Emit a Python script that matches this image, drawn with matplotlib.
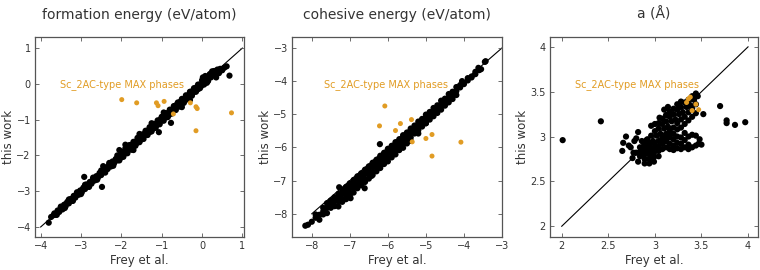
import matplotlib.pyplot as plt

### Data ###

# formation energy (eV/atom): Frey et al. vs this work
fe_frey = [
    -3.74, -3.68, -3.62, -3.56, -3.50, -3.44, -3.38, -3.32, -3.26, -3.20, -3.14, -3.08,
    -3.02, -2.96, -2.90, -2.84, -2.78, -2.72, -2.66, -2.60, -2.54, -2.48, -2.42, -2.36,
    -2.30, -2.24, -2.18, -2.12, -2.06, -2.00, -1.94, -1.88, -1.82, -1.76, -1.70, -1.64,
    -1.58, -1.52, -1.46, -1.40, -1.34, -1.28, -1.22, -1.16, -1.10, -1.04, -0.98, -0.92,
    -0.86, -0.80, -0.74, -0.68, -0.62, -0.56, -0.50, -0.44, -0.38, -0.32, -0.26, -0.20,
    -0.14, -0.08, -0.02, 0.04, 0.10, 0.16, 0.22, 0.28,
    -3.50, -3.30, -3.10, -2.90, -2.70, -2.50, -2.30, -2.10, -2.00, -1.90, -1.80, -1.70,
    -1.60, -1.50, -1.40, -1.30, -1.20, -1.10, -1.00, -0.90, -0.80, -0.70, -0.60, -0.50,
    -0.40, -0.30, -0.20, -0.10, 0.00, 0.10, 0.20, 0.30,
    -3.60, -3.40, -3.20, -3.00, -2.80, -2.60, -2.40, -2.20, -2.05, -1.95, -1.85, -1.75,
    -1.65, -1.55, -1.45, -1.35, -1.25, -1.15, -1.05, -0.95, -0.85, -0.75, -0.65, -0.55,
    -0.45, -0.35, -0.25, -0.15, -0.05, 0.05, 0.15,
    -3.66, -3.58, -3.50, -3.42, -3.34, -3.26, -3.18, -3.10, -3.02, -2.94, -2.86, -2.78,
    -2.70, -2.62, -2.54, -2.46, -2.38, -2.30, -2.22, -2.14, -2.06, -1.98, -1.90, -1.82,
    -1.74, -1.66, -1.58, -1.50, -1.42, -1.34, -1.26, -1.18, -1.10, -1.02, -0.94, -0.86,
    -0.78, -0.70, -0.62, -0.54, -0.46, -0.38, -0.30, -0.22, -0.14, -0.06, 0.02, 0.10,
    0.18, 0.26,
    -3.62, -3.54, -3.46, -3.38, -3.30, -3.22, -3.14, -3.06, -2.98, -2.90, -2.82, -2.74,
    -2.66, -2.58, -2.50, -2.42, -2.34, -2.26, -2.18, -2.10, -2.02, -1.94, -1.86, -1.78,
    -1.70, -1.62, -1.54, -1.46, -1.38, -1.30, -1.22, -1.14, -1.06, -0.98, -0.90, -0.82,
    -0.74, -0.66, -0.58, -0.50, -0.42, -0.34, -0.26, -0.18, -0.10, -0.02, 0.06, 0.14,
    0.22,
    0.02, 0.08, 0.12, 0.18, 0.25, 0.32, 0.38, 0.45, 0.50, 0.55, 0.61, 0.68, 0.35, 0.42,
    -2.05, -1.90, -1.55, -1.25, -2.45, -1.70, -0.95, -0.50, -0.30,
    -3.80, -2.92, -2.48, -1.07, -0.77,
]
fe_this = [
    -3.72, -3.67, -3.63, -3.55, -3.49, -3.45, -3.36, -3.31, -3.27, -3.19, -3.13, -3.09,
    -3.00, -2.95, -2.91, -2.83, -2.77, -2.73, -2.64, -2.59, -2.55, -2.46, -2.41, -2.37,
    -2.28, -2.22, -2.19, -2.10, -2.04, -2.01, -1.92, -1.87, -1.83, -1.74, -1.69, -1.65,
    -1.56, -1.51, -1.47, -1.38, -1.33, -1.29, -1.20, -1.15, -1.11, -1.02, -0.97, -0.93,
    -0.84, -0.79, -0.75, -0.66, -0.61, -0.57, -0.48, -0.43, -0.39, -0.30, -0.25, -0.21,
    -0.12, -0.07, -0.03, 0.05, 0.09, 0.16, 0.21, 0.29,
    -3.43, -3.23, -3.03, -2.82, -2.62, -2.42, -2.21, -2.00, -1.90, -1.80, -1.71, -1.62,
    -1.51, -1.42, -1.31, -1.21, -1.12, -1.02, -0.92, -0.82, -0.72, -0.62, -0.52, -0.42,
    -0.32, -0.22, -0.12, -0.02, 0.10, 0.18, 0.28, 0.36,
    -3.66, -3.47, -3.27, -3.08, -2.88, -2.68, -2.48, -2.29, -2.14, -2.04, -1.94, -1.84,
    -1.73, -1.63, -1.54, -1.43, -1.33, -1.23, -1.13, -1.03, -0.93, -0.83, -0.73, -0.63,
    -0.53, -0.43, -0.33, -0.22, -0.12, -0.02, 0.08,
    -3.62, -3.54, -3.45, -3.38, -3.30, -3.22, -3.13, -3.06, -2.98, -2.90, -2.81, -2.74,
    -2.66, -2.58, -2.49, -2.42, -2.34, -2.26, -2.17, -2.10, -2.02, -1.94, -1.85, -1.78,
    -1.70, -1.62, -1.53, -1.46, -1.38, -1.30, -1.21, -1.14, -1.06, -0.98, -0.89, -0.82,
    -0.74, -0.66, -0.57, -0.50, -0.42, -0.34, -0.25, -0.18, -0.10, -0.02, 0.07, 0.14,
    0.22, 0.30,
    -3.66, -3.58, -3.51, -3.42, -3.34, -3.27, -3.18, -3.10, -3.03, -2.94, -2.86, -2.79,
    -2.70, -2.62, -2.55, -2.46, -2.38, -2.31, -2.22, -2.14, -2.07, -1.98, -1.90, -1.83,
    -1.74, -1.66, -1.59, -1.50, -1.42, -1.35, -1.26, -1.18, -1.11, -1.02, -0.94, -0.87,
    -0.78, -0.70, -0.63, -0.54, -0.46, -0.39, -0.30, -0.22, -0.15, -0.06, 0.02, 0.09,
    0.18,
    0.18, 0.22, 0.03, 0.25, 0.35, 0.30, 0.40, 0.42, 0.38, 0.45, 0.49, 0.23, 0.18, 0.30,
    -1.85, -1.70, -1.40, -1.10, -2.30, -1.85, -0.80, -0.65, -0.45,
    -3.88, -2.60, -2.88, -1.35, -1.09,
]
fe_sc_frey = [-1.99, -1.62, -1.13, -1.09, -0.94, -0.29, -0.15, -0.12, -0.15, 0.73, -0.71]
fe_sc_this = [-0.44, -0.53, -0.53, -0.61, -0.49, -0.53, -0.64, -0.69, -1.31, -0.81, -0.84]

# cohesive energy (eV/atom)
ce_frey = [
    -8.10, -8.00, -7.90, -7.80, -7.70, -7.60, -7.50, -7.40, -7.30, -7.20, -7.10, -7.00,
    -6.90, -6.80, -6.70, -6.60, -6.50, -6.40, -6.30, -6.20, -6.10, -6.00, -5.90, -5.80,
    -5.70, -5.60, -5.50, -5.40, -5.30, -5.20, -5.10, -5.00, -4.90, -4.80, -4.70, -4.60,
    -4.50, -4.40, -4.30, -4.20, -4.10, -4.00, -3.90, -3.80, -3.70, -3.60, -3.45,
    -7.60, -7.40, -7.20, -7.00, -6.80, -6.60, -6.40, -6.20, -6.00, -5.80, -5.60, -5.40,
    -5.20, -5.00, -4.80, -4.60, -4.40, -4.20,
    -7.80, -7.60, -7.40, -7.20, -7.00, -6.80, -6.60, -6.40, -6.20, -6.00, -5.80, -5.60,
    -5.40, -5.20, -5.00, -4.80, -4.60, -4.40, -4.20,
    -7.30, -7.10, -6.90, -6.70, -6.50, -6.30, -6.10, -5.90, -5.70, -5.50,
    -7.90, -7.70, -7.50, -7.30, -7.10, -6.90, -6.70, -6.50, -6.30, -6.10, -5.90, -5.70,
    -5.50, -5.30, -5.10, -4.90, -4.70, -4.50, -4.30, -4.10, -3.90, -3.70,
    -7.70, -7.50, -7.30, -7.10, -6.90, -6.70, -6.50, -6.30, -6.10, -5.90, -5.70, -5.50,
    -5.30, -5.10, -4.90, -4.70, -4.50, -4.30,
    -7.20, -7.00, -6.80, -6.60, -6.40, -6.20, -6.00, -5.80, -5.60, -5.40, -5.20,
    -3.62, -3.55, -3.80, -4.05, -3.43,
    -6.21, -6.43, -6.61, -6.98, -4.48, -5.00, -7.28, -7.44, -8.17,
]
ce_this = [
    -8.33, -8.24, -8.12, -8.03, -7.93, -7.82, -7.72, -7.63, -7.52, -7.41, -7.32, -7.21,
    -7.10, -7.00, -6.91, -6.80, -6.69, -6.59, -6.48, -6.38, -6.28, -6.17, -6.07, -5.96,
    -5.86, -5.76, -5.65, -5.55, -5.44, -5.34, -5.23, -5.13, -5.02, -4.92, -4.82, -4.71,
    -4.61, -4.51, -4.40, -4.30, -4.19, -4.09, -3.98, -3.89, -3.79, -3.67, -3.42,
    -7.68, -7.50, -7.28, -7.08, -6.87, -6.67, -6.46, -6.25, -6.04, -5.84, -5.63, -5.43,
    -5.22, -5.01, -4.81, -4.59, -4.39, -4.18,
    -8.18, -7.98, -7.77, -7.56, -7.36, -7.15, -6.95, -6.74, -6.53, -6.32, -6.11, -5.90,
    -5.70, -5.48, -5.27, -5.06, -4.86, -4.64, -4.42,
    -7.78, -7.56, -7.36, -7.14, -6.94, -6.72, -6.50, -6.30, -6.08, -5.88,
    -8.02, -7.82, -7.60, -7.40, -7.19, -6.98, -6.78, -6.57, -6.37, -6.16, -5.95, -5.75,
    -5.55, -5.34, -5.14, -4.93, -4.73, -4.53, -4.32, -4.12, -3.91, -3.72,
    -8.02, -7.82, -7.62, -7.42, -7.22, -7.02, -6.80, -6.60, -6.40, -6.19, -5.99, -5.78,
    -5.58, -5.37, -5.16, -4.96, -4.74, -4.54,
    -7.64, -7.44, -7.23, -7.04, -6.83, -6.62, -6.42, -6.21, -6.01, -5.80, -5.58,
    -3.60, -3.64, -3.86, -4.00, -3.40,
    -5.90, -6.86, -7.23, -7.53, -4.68, -5.27, -7.20, -7.58, -8.36,
]
ce_sc_frey = [-6.08, -6.22, -5.67, -5.80, -5.38, -5.36, -5.00, -4.84, -4.84, -4.08]
ce_sc_this = [-4.75, -5.35, -5.28, -5.49, -5.16, -5.83, -5.73, -5.61, -6.26, -5.84]

# lattice parameter a (Angstrom)
a_frey = [
    2.86, 2.90, 2.94, 2.98, 3.02, 3.06, 3.10, 3.14, 3.18, 3.22, 3.26, 3.30, 3.34, 3.38,
    3.42, 3.46,
    2.88, 2.92, 2.96, 3.00, 3.04, 3.08, 3.12, 3.16, 3.20, 3.24, 3.28, 3.32, 3.36, 3.40,
    3.44,
    2.92, 2.96, 3.00, 3.04, 3.08, 3.12, 3.16, 3.20, 3.24, 3.28, 3.32, 3.36, 3.40, 3.44,
    2.96, 3.00, 3.04, 3.08, 3.12, 3.16, 3.20, 3.10, 3.14, 3.05, 3.24, 3.28,
    2.84, 2.84, 2.84, 2.89, 2.89, 2.89, 2.89, 2.89, 2.94, 2.94, 2.94, 2.94, 2.94, 2.99,
    2.99, 2.99, 2.99, 3.04, 3.04, 3.04, 2.80, 2.86, 2.91,
    3.08, 3.08, 3.08, 3.12, 3.12, 3.12, 3.16, 3.16, 3.16, 3.16, 3.20, 3.20, 3.20, 3.20,
    3.24, 3.24, 3.24, 3.24, 3.28, 3.28, 3.28, 3.28, 3.32, 3.32, 3.32, 3.32, 3.36, 3.36,
    3.36, 3.36, 3.40, 3.40, 3.40, 3.44, 3.44, 3.44, 3.47, 3.50, 3.48, 3.52,
    2.69, 2.66, 2.65, 2.77, 2.74, 2.78, 2.80, 2.82, 2.72, 2.76, 2.82,
    2.01, 2.42, 3.70, 3.77, 3.77, 3.86, 3.97,
]
a_this = [
    2.84, 2.87, 2.93, 2.95, 3.01, 3.03, 3.09, 3.11, 3.17, 3.19, 3.25, 3.27, 3.33, 3.35,
    3.41, 3.45,
    2.93, 2.97, 3.01, 3.06, 3.09, 3.14, 3.17, 3.22, 3.25, 3.30, 3.33, 3.38, 3.41, 3.45,
    3.48,
    2.82, 2.86, 2.91, 2.95, 2.98, 3.03, 3.07, 3.10, 3.15, 3.19, 3.22, 3.27, 3.31, 3.36,
    3.12, 3.14, 3.15, 3.20, 3.24, 3.28, 3.31, 3.30, 3.33, 3.21, 3.36, 3.39,
    2.78, 2.83, 2.88, 2.70, 2.75, 2.80, 2.85, 2.90, 2.70, 2.75, 2.80, 2.85, 2.90, 2.72,
    2.77, 2.82, 2.87, 2.78, 2.84, 2.89, 2.82, 2.95, 2.96,
    2.86, 2.92, 2.98, 2.88, 2.95, 3.01, 2.86, 2.92, 2.99, 3.04, 2.85, 2.90, 2.97, 3.03,
    2.87, 2.93, 3.00, 3.08, 2.86, 2.92, 2.99, 3.10, 2.88, 2.96, 3.04, 3.14, 2.86, 2.91,
    3.00, 3.18, 2.88, 3.02, 3.22, 2.90, 3.01, 3.26, 2.92, 2.91, 2.97, 3.25,
    3.00, 2.93, 2.84, 2.82, 2.88, 2.95, 2.98, 3.05, 2.90, 2.76, 2.72,
    2.96, 3.17, 3.34, 3.18, 3.15, 3.13, 3.16,
]
a_sc_frey = [3.36, 3.38, 3.40, 3.47, 3.44, 3.34]
a_sc_this = [3.42, 3.44, 3.29, 3.30, 3.36, 3.38]

titles = ['formation energy (eV/atom)', 'cohesive energy (eV/atom)', 'a (Å)']
sc_label = 'Sc_2AC-type MAX phases'

### Plot ###

ORANGE = '#e19c24'
FRAME = '#555555'
TEXT = '#333333'

fig = plt.figure(figsize = (7.6, 2.7), dpi = 100)

panels = [
    # axes rect, data, limits, ticks, diagonal, label x
    ([35 / 760, 33 / 270, 209 / 760, 200 / 270], fe_frey, fe_this, fe_sc_frey, fe_sc_this,
     (-4.14, 1.04), (-4.28, 1.31), [-4, -3, -2, -1, 0, 1], [-4, -3, -2, -1, 0, 1], (-4, 1), 0.12),
    ([292 / 760, 33 / 270, 210 / 760, 200 / 270], ce_frey, ce_this, ce_sc_frey, ce_sc_this,
     (-8.52, -3.0), (-8.70, -2.67), [-8, -7, -6, -5, -4, -3], [-8, -7, -6, -5, -4, -3], (-8, -3), 0.15),
    ([550 / 760, 33 / 270, 208 / 760, 200 / 270], a_frey, a_this, a_sc_frey, a_sc_this,
     (1.874, 4.107), (1.88, 4.11), [2, 2.5, 3, 3.5, 4], [2, 2.5, 3, 3.5, 4], (2, 4), 0.12),
]

for (rect, x, y, sx, sy, xlim, ylim, xt, yt, diag, tx), title in zip(panels, titles):
    ax = fig.add_axes(rect)
    ax.plot(diag, diag, color = 'black', lw = 0.8, zorder = 1)
    ax.scatter(x, y, s = 20, color = 'black', edgecolors = 'none', zorder = 2)
    ax.scatter(sx, sy, s = 13, color = ORANGE, edgecolors = 'none', zorder = 3)

    ax.set_xlim(*xlim)
    ax.set_ylim(*ylim)
    ax.set_xticks(xt)
    ax.set_yticks(yt)
    ax.set_xticklabels([f'{v:g}'.replace('-', '\u2212') for v in xt])
    ax.set_yticklabels([f'{v:g}'.replace('-', '\u2212') for v in yt])

    ax.tick_params(direction = 'in', length = 3, width = 0.6, color = FRAME,
                   labelsize = 7, labelcolor = TEXT, top = True, right = True, pad = 3)
    for sp in ax.spines.values():
        sp.set_color(FRAME)
        sp.set_linewidth(0.9)

    ax.set_title(title, fontsize = 10, color = TEXT, pad = 13)
    ax.set_xlabel('Frey et al.', fontsize = 8.5, color = TEXT, labelpad = 2)
    ax.set_ylabel('this work', fontsize = 8.5, color = TEXT, labelpad = 1)
    ax.text(tx, 0.76, sc_label, transform = ax.transAxes, color = ORANGE,
            fontsize = 7, va = 'center', ha = 'left')

fig.savefig('out.png', dpi = 100)
